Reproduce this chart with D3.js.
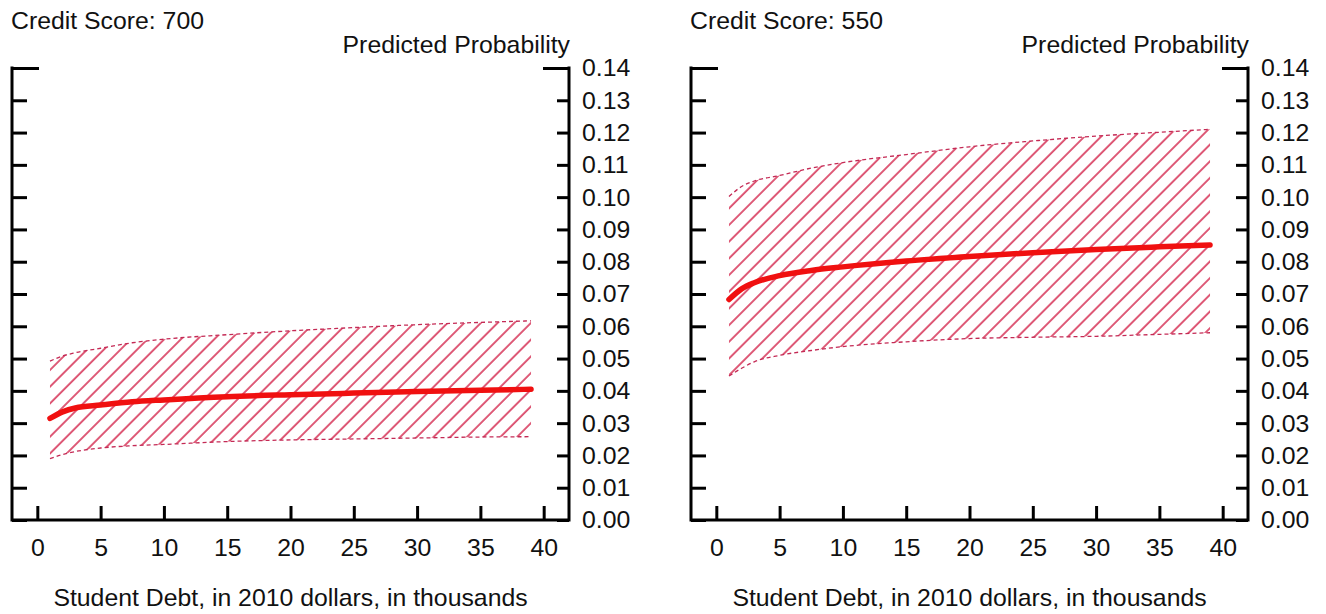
<!DOCTYPE html>
<html>
<head>
<meta charset="utf-8">
<script src="https://cdn.jsdelivr.net/npm/d3@7/dist/d3.min.js"></script>
<style>
  html, body { margin: 0; padding: 0; background: #fff; }
  svg { display: block; }
  text { font-family: "Liberation Sans", Arial, sans-serif; fill: #111; }
</style>
</head>
<body>
<svg id="chart" width="1326" height="614"></svg>
<script>
// Student debt, thousands of 2010 dollars
const debt = [1, 2, 3, 5, 7.5, 10, 15, 20, 25, 30, 35, 39];

// Credit score 700: predicted probability and confidence band
const prob700 = [0.0315, 0.0335, 0.0347, 0.0356, 0.0366, 0.0372, 0.0382, 0.0388, 0.0393, 0.0398, 0.0402, 0.0405];
const upper700 = [0.0492, 0.0508, 0.0518, 0.0532, 0.0549, 0.0560, 0.0574, 0.0586, 0.0596, 0.0605, 0.0612, 0.0617];
const lower700 = [0.0190, 0.0203, 0.0212, 0.0223, 0.0230, 0.0234, 0.0243, 0.0248, 0.0251, 0.0254, 0.0257, 0.0258];

// Credit score 550: predicted probability and confidence band
const prob550 = [0.0683, 0.0716, 0.0735, 0.0757, 0.0773, 0.0784, 0.0802, 0.0816, 0.0828, 0.0838, 0.0846, 0.0852];
const upper550 = [0.1002, 0.1033, 0.1050, 0.1067, 0.1090, 0.1107, 0.1132, 0.1156, 0.1174, 0.1189, 0.1201, 0.1210];
const lower550 = [0.0446, 0.0470, 0.0490, 0.0510, 0.0525, 0.0537, 0.0552, 0.0562, 0.0566, 0.0569, 0.0575, 0.0580];

const xTicks = [0, 5, 10, 15, 20, 25, 30, 35, 40];
const yTicks = [0.00, 0.01, 0.02, 0.03, 0.04, 0.05, 0.06, 0.07, 0.08, 0.09, 0.10, 0.11, 0.12, 0.13, 0.14];

const panels = [
  { title: "Credit Score: 700", left: 12, prob: prob700, upper: upper700, lower: lower700 },
  { title: "Credit Score: 550", left: 691, prob: prob550, upper: upper550, lower: lower550 }
];

const svg = d3.select("#chart");
const hatchColor = "#d0143e";

// diagonal hatch for confidence bands
const defs = svg.append("defs");
const pat = defs.append("pattern")
  .attr("id", "hatch")
  .attr("patternUnits", "userSpaceOnUse")
  .attr("width", 11.8).attr("height", 11.8)
  .attr("patternTransform", "rotate(45)");
pat.append("line")
  .attr("x1", 2).attr("y1", 0).attr("x2", 2).attr("y2", 11.8)
  .attr("stroke", hatchColor).attr("stroke-width", 1.4);

const plotW = 557, plotTop = 68, plotBottom = 520;
const fontSize = 24.8;
const fontFamily = "Liberation Sans, Arial, sans-serif";

panels.forEach(p => {
  const x = d3.scaleLinear().domain([-2, 42]).range([p.left, p.left + plotW]);
  const y = d3.scaleLinear().domain([0, 0.14]).range([plotBottom, plotTop]);
  const g = svg.append("g");

  const pts = debt.map((d, i) => ({ d, m: p.prob[i], hi: p.upper[i], lo: p.lower[i] }));

  // band
  g.append("path")
    .datum(pts)
    .attr("fill", "url(#hatch)")
    .attr("d", d3.area().curve(d3.curveMonotoneX)
      .x(v => x(v.d)).y0(v => y(v.lo)).y1(v => y(v.hi)));

  // dashed band bounds
  ["hi", "lo"].forEach(k => {
    g.append("path")
      .datum(pts)
      .attr("fill", "none")
      .attr("stroke", "#c42a55")
      .attr("stroke-width", 1.3)
      .attr("stroke-dasharray", "4,3")
      .attr("d", d3.line().curve(d3.curveMonotoneX).x(v => x(v.d)).y(v => y(v[k])));
  });

  // predicted probability
  g.append("path")
    .datum(pts)
    .attr("fill", "none")
    .attr("stroke", "#f01010")
    .attr("stroke-width", 5.5)
    .attr("stroke-linecap", "round")
    .attr("d", d3.line().curve(d3.curveMonotoneX).x(v => x(v.d)).y(v => y(v.m)));

  // bottom axis with inward ticks
  const xAxis = d3.axisBottom(x).tickValues(xTicks).tickSize(-14).tickPadding(18)
    .tickFormat(d3.format("d"));
  const xa = g.append("g").attr("transform", `translate(0,${plotBottom})`).call(xAxis);
  xa.select(".domain").remove();
  xa.selectAll(".tick line").attr("stroke", "#000").attr("stroke-width", 3);
  xa.selectAll(".tick text").attr("font-size", fontSize).attr("fill", "#111")
    .attr("font-family", fontFamily);

  // right axis with labels
  const yAxisR = d3.axisRight(y).tickValues(yTicks).tickSize(-12).tickPadding(13)
    .tickFormat(d3.format(".2f"));
  const yr = g.append("g").attr("transform", `translate(${p.left + plotW},0)`).call(yAxisR);
  yr.select(".domain").remove();
  yr.selectAll(".tick line").attr("stroke", "#000").attr("stroke-width", 3)
    .attr("x2", d => d === 0.14 ? -26 : -12);
  yr.selectAll(".tick text").attr("font-size", fontSize).attr("fill", "#111")
    .attr("font-family", fontFamily);

  // left axis, ticks only
  const yAxisL = d3.axisLeft(y).tickValues(yTicks).tickSize(-14).tickFormat("");
  const yl = g.append("g").attr("transform", `translate(${p.left},0)`).call(yAxisL);
  yl.select(".domain").remove();
  yl.selectAll(".tick line").attr("stroke", "#000").attr("stroke-width", 3)
    .attr("x2", d => d === 0.14 ? 27 : 15);

  // frame: left, bottom, right
  g.append("path")
    .attr("fill", "none").attr("stroke", "#000").attr("stroke-width", 3)
    .attr("stroke-linejoin", "miter")
    .attr("d", `M${p.left},${plotTop - 1.5}V${plotBottom}H${p.left + plotW}V${plotTop - 1.5}`);

  // texts
  g.append("text").attr("x", p.left - 1).attr("y", 28.5)
    .attr("font-size", fontSize).text(p.title);
  g.append("text").attr("x", p.left + plotW + 1).attr("y", 53)
    .attr("text-anchor", "end").attr("font-size", fontSize).text("Predicted Probability");
  g.append("text").attr("x", p.left + plotW / 2).attr("y", 606)
    .attr("text-anchor", "middle").attr("font-size", fontSize)
    .text("Student Debt, in 2010 dollars, in thousands");
});
</script>
</body>
</html>
